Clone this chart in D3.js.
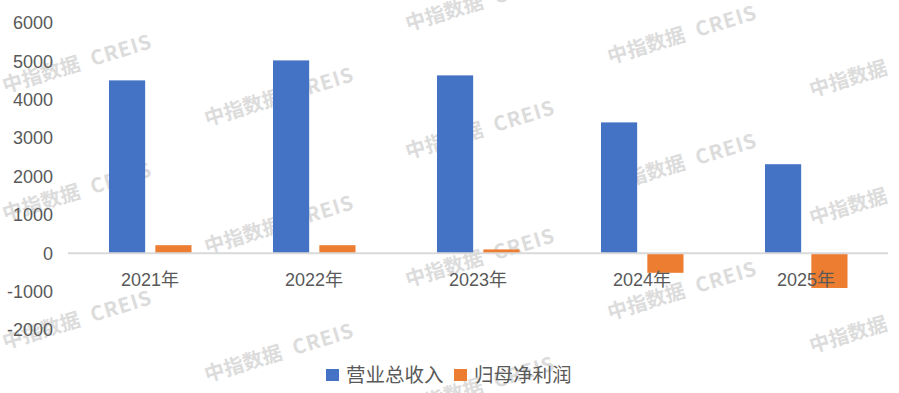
<!DOCTYPE html>
<html>
<head>
<meta charset="utf-8">
<script src="https://cdn.jsdelivr.net/npm/d3@7"></script>
<style>
  body { margin: 0; background: #fff; }
  svg { display: block; }
</style>
</head>
<body>
<svg id="chart" width="899" height="393"></svg>
<script>
// chart data
const years = ['2021年', '2022年', '2023年', '2024年', '2025年'];
const seriesNames = ['营业总收入', '归母净利润'];
const revenue = [4505, 5025, 4635, 3410, 2320];
const netProfit = [210, 210, 100, -510, -905];
const yTicks = [-2000, -1000, 0, 1000, 2000, 3000, 4000, 5000, 6000];

const colours = ['#4472C4', '#ED7D31'];
const textColour = '#595959';

const svg = d3.select('#chart');
const width = 899, height = 393;

// background watermark, tiled like the original export
const marks = svg.append('g').attr('class', 'watermark');
const colX = [5, 207, 408, 610, 812];
colX.forEach((x, i) => {
  let y0 = 93 + i * 33;
  while (y0 - 128 > -30) y0 -= 128;
  for (let y = y0; y < height + 40; y += 128) {
    const t = marks.append('text')
      .attr('transform', `translate(${x},${y}) rotate(-17)`)
      .attr('font-family', '"Noto Sans CJK SC", "Noto Sans", sans-serif')
      .attr('font-weight', 'bold')
      .attr('font-size', 20)
      .attr('fill', '#dcdcdc');
    t.append('tspan').text('中指数据');
    // last column only shows the chinese part, the rest is off the page
    if (i < colX.length - 1) {
      t.append('tspan').attr('dx', 12).attr('letter-spacing', 1).text('CREIS');
    }
  }
});

const y = d3.scaleLinear().domain([-2000, 6000]).range([330, 23]);

const x0 = d3.scaleBand().domain(years).range([68, 888]).padding(0);
const x1 = d3.scaleBand().domain(seriesNames).range([41, 123.5]).paddingInner(0.22);

// y tick labels (no axis line, no gridlines)
svg.append('g')
  .selectAll('text')
  .data(yTicks)
  .join('text')
  .attr('x', 53)
  .attr('y', d => y(d))
  .attr('dy', '0.35em')
  .attr('text-anchor', 'end')
  .attr('font-family', '"Liberation Sans", Arial, sans-serif')
  .attr('font-size', 18)
  .attr('fill', textColour)
  .text(d => d);

// bars
const rows = years.map((yr, i) => ({ year: yr, values: [revenue[i], netProfit[i]] }));

const groups = svg.append('g')
  .selectAll('g')
  .data(rows)
  .join('g')
  .attr('transform', d => `translate(${x0(d.year)},0)`);

groups.selectAll('rect')
  .data(d => d.values.map((v, j) => ({ name: seriesNames[j], value: v, idx: j })))
  .join('rect')
  .attr('x', d => x1(d.name))
  .attr('width', x1.bandwidth())
  .attr('y', d => y(Math.max(0, d.value)))
  .attr('height', d => Math.abs(y(d.value) - y(0)))
  .attr('fill', d => colours[d.idx]);

// zero line
svg.append('line')
  .attr('x1', 68)
  .attr('x2', 888)
  .attr('y1', y(0))
  .attr('y2', y(0))
  .attr('stroke', '#d9d9d9')
  .attr('stroke-width', 2);

// category labels
svg.append('g')
  .selectAll('text')
  .data(years)
  .join('text')
  .attr('x', d => x0(d) + x0.bandwidth() / 2)
  .attr('y', 280)
  .attr('dy', '0.35em')
  .attr('text-anchor', 'middle')
  .attr('font-family', '"Liberation Sans", "Noto Sans CJK SC", sans-serif')
  .attr('font-size', 18)
  .attr('fill', textColour)
  .text(d => d);

// legend
const legend = svg.append('g');
const legendX = [326, 454];
seriesNames.forEach((name, i) => {
  legend.append('rect')
    .attr('x', legendX[i])
    .attr('y', 369)
    .attr('width', 13)
    .attr('height', 12)
    .attr('fill', colours[i]);
  legend.append('text')
    .attr('x', legendX[i] + 20)
    .attr('y', 375)
    .attr('dy', '0.35em')
    .attr('font-family', '"Noto Sans CJK SC", sans-serif')
    .attr('font-size', 19.5)
    .attr('fill', textColour)
    .text(name);
});
</script>
</body>
</html>
